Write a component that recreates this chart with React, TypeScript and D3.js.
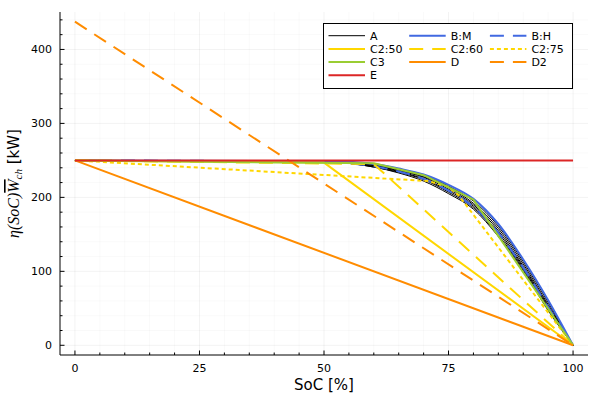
import React from "react";
import * as d3 from "d3";

// ---------- data ----------
const curveSoc = [0, 50, 55, 60, 65, 70, 75, 80, 85, 90, 95, 100];
const aFamily = [
  [250, 249, 248, 244, 238, 230, 215, 195, 161, 113, 58, 0],
  [250, 249, 247, 243, 237, 228, 213, 192, 158, 110, 55, 0],
  [250, 248, 247, 243, 236, 227, 211, 190, 155, 107, 53, 0],
  [250, 248, 246, 242, 235, 225, 209, 188, 152, 105, 51, 0],
  [250, 248, 246, 241, 234, 224, 207, 186, 149, 103, 49, 0],
  [250, 248, 246, 241, 233, 222, 205, 184, 147, 101, 47, 0],
];
const bM = [250, 249, 248, 245, 239, 231, 217, 198, 164, 116, 61, 0];
const bH = [250, 248, 246, 242, 235, 225, 209, 187, 152, 105, 52, 0];

const c250Soc = [0, 50, 100];
const c250P = [250, 247, 0];
const c260Soc = [0, 60, 100];
const c260P = [250, 245, 0];
const c275Soc = [0, 71, 75, 77, 100];
const c275P = [250, 222, 214, 203, 0];
const c3Soc = [0, 60, 70, 80, 100];
const c3P = [250, 246, 230, 197, 0];
const dSoc = [0, 100];
const dP = [250, 0];
const d2Soc = [0, 100];
const d2P = [437.5, 0];
const eSoc = [0, 100];
const eP = [250, 250];

const xTicks = [0, 25, 50, 75, 100];
const yTicks = [0, 100, 200, 300, 400];
const xMinor = [5, 10, 15, 20, 30, 35, 40, 45, 55, 60, 65, 70, 80, 85, 90, 95];
const yMinor = [20, 40, 60, 80, 120, 140, 160, 180, 220, 240, 260, 280, 320, 340, 360, 380, 420, 440];

// ---------- layout ----------
const W = 600, H = 400;
const L = 60, R = 588, T = 12, B = 355;
const FONT = "DejaVu Sans, sans-serif";

const BLACK = "#000000";
const BLUE = "#4169E1";
const GOLD = "#FFD700";
const GREEN = "#9ACD32";
const ORANGE = "#FF8C00";
const RED = "#DC2626";
const DASH = "14,9";
const DOT = "4,3";

export default function App() {
  const x = d3.scaleLinear().domain([-3, 103]).range([L, R]);
  const y = d3.scaleLinear().domain([-13.125, 450.625]).range([B, T]);

  const smooth = d3
    .line<[number, number]>()
    .x((d) => x(d[0]))
    .y((d) => y(d[1]))
    .curve(d3.curveMonotoneX);
  const straight = d3
    .line<[number, number]>()
    .x((d) => x(d[0]))
    .y((d) => y(d[1]));

  const zip = (xs: number[], ys: number[]) => xs.map((v, i) => [v, ys[i]] as [number, number]);

  const legend = [
    { name: "A", color: BLACK, dash: "", w: 1 },
    { name: "B:M", color: BLUE, dash: "", w: 2 },
    { name: "B:H", color: BLUE, dash: DASH, w: 2 },
    { name: "C2:50", color: GOLD, dash: "", w: 2 },
    { name: "C2:60", color: GOLD, dash: DASH, w: 2 },
    { name: "C2:75", color: GOLD, dash: DOT, w: 2 },
    { name: "C3", color: GREEN, dash: "", w: 2 },
    { name: "D", color: ORANGE, dash: "", w: 2 },
    { name: "D2", color: ORANGE, dash: DASH, w: 2 },
    { name: "E", color: RED, dash: "", w: 2 },
  ];

  const lgX = 323.5, lgY = 23.5, lgW = 249, lgH = 65;

  return (
    <svg
      width={W}
      height={H}
      style={{ position: "absolute", left: 0, top: 0, background: "#fff" }}
      fontFamily={FONT}
    >
      <rect x={0} y={0} width={W} height={H} fill="#fff" />
      {/* minor grid */}
      {xMinor.map((t) => (
        <line key={"xm" + t} x1={x(t)} x2={x(t)} y1={T} y2={B} stroke="#000" strokeOpacity={0.05} strokeWidth={0.5} />
      ))}
      {yMinor.map((t) => (
        <line key={"ym" + t} x1={L} x2={R} y1={y(t)} y2={y(t)} stroke="#000" strokeOpacity={0.05} strokeWidth={0.5} />
      ))}
      {/* major grid */}
      {xTicks.map((t) => (
        <line key={"xg" + t} x1={x(t)} x2={x(t)} y1={T} y2={B} stroke="#000" strokeOpacity={0.1} strokeWidth={0.5} />
      ))}
      {yTicks.map((t) => (
        <line key={"yg" + t} x1={L} x2={R} y1={y(t)} y2={y(t)} stroke="#000" strokeOpacity={0.1} strokeWidth={0.5} />
      ))}

      {/* series */}
      <g fill="none" strokeLinejoin="round">
        {aFamily.map((p, i) => (
          <path key={"a" + i} d={smooth(zip(curveSoc, p)) || ""} stroke={BLACK} strokeWidth={1} />
        ))}
        <path d={smooth(zip(curveSoc, bM)) || ""} stroke={BLUE} strokeWidth={2} />
        <path d={smooth(zip(curveSoc, bH)) || ""} stroke={BLUE} strokeWidth={2} strokeDasharray={DASH} />
        <path d={straight(zip(c250Soc, c250P)) || ""} stroke={GOLD} strokeWidth={2} />
        <path d={straight(zip(c260Soc, c260P)) || ""} stroke={GOLD} strokeWidth={2} strokeDasharray={DASH} />
        <path d={straight(zip(c275Soc, c275P)) || ""} stroke={GOLD} strokeWidth={2} strokeDasharray={DOT} />
        <path d={straight(zip(c3Soc, c3P)) || ""} stroke={GREEN} strokeWidth={2} />
        <path d={straight(zip(dSoc, dP)) || ""} stroke={ORANGE} strokeWidth={2} />
        <path d={straight(zip(d2Soc, d2P)) || ""} stroke={ORANGE} strokeWidth={2} strokeDasharray={DASH} />
        <path d={straight(zip(eSoc, eP)) || ""} stroke={RED} strokeWidth={2} />
      </g>

      {/* axes */}
      <line x1={L} x2={R} y1={B} y2={B} stroke="#000" strokeWidth={1} />
      <line x1={L} x2={L} y1={T} y2={B} stroke="#000" strokeWidth={1} />
      {xTicks.map((t) => (
        <g key={"xt" + t}>
          <line x1={x(t)} x2={x(t)} y1={B} y2={B - 4.5} stroke="#000" strokeWidth={1} />
          <text x={x(t)} y={372} fontSize={11} textAnchor="middle" fill="#000">
            {t}
          </text>
        </g>
      ))}
      {xMinor.map((t) => (
        <line key={"xmt" + t} x1={x(t)} x2={x(t)} y1={B} y2={B - 2.5} stroke="#000" strokeWidth={1} />
      ))}
      {yTicks.map((t) => (
        <g key={"yt" + t}>
          <line x1={L} x2={L + 4.5} y1={y(t)} y2={y(t)} stroke="#000" strokeWidth={1} />
          <text x={52} y={y(t)} dy="0.35em" fontSize={11} textAnchor="end" fill="#000">
            {t}
          </text>
        </g>
      ))}
      {yMinor.map((t) => (
        <line key={"ymt" + t} x1={L} x2={L + 2.5} y1={y(t)} y2={y(t)} stroke="#000" strokeWidth={1} />
      ))}

      {/* axis labels */}
      <text x={(L + R) / 2} y={390} fontSize={15} textAnchor="middle" fill="#000">
        SoC [%]
      </text>
      <text transform={`translate(19, ${(T + B) / 2}) rotate(-90)`} textAnchor="middle" fill="#000" fontSize={16}>
        <tspan fontFamily="Liberation Serif, DejaVu Serif, serif" fontStyle="italic">
          η(SoC)
        </tspan>
        <tspan fontFamily="Liberation Serif, DejaVu Serif, serif" fontStyle="italic" style={{ textDecoration: "overline" }}>
          W
        </tspan>
        <tspan fontFamily="Liberation Serif, DejaVu Serif, serif" fontStyle="italic" fontSize={11} dy={3}>
          ch
        </tspan>
        <tspan dy={-3} fontSize={15}>
          {"  [kW]"}
        </tspan>
      </text>

      {/* legend */}
      <rect x={lgX} y={lgY} width={lgW} height={lgH} fill="#fff" stroke="#000" strokeWidth={1} />
      {legend.map((e, i) => {
        const col = i % 3;
        const row = Math.floor(i / 3);
        const lx = 328.5 + col * 80.7;
        const ly = 35.7 + row * 13.2;
        return (
          <g key={e.name}>
            <line x1={lx} x2={lx + 36.5} y1={ly} y2={ly} stroke={e.color} strokeWidth={e.w} strokeDasharray={e.dash} />
            <text x={lx + 41.5} y={ly} dy="0.36em" fontSize={11} fill="#000">
              {e.name}
            </text>
          </g>
        );
      })}
    </svg>
  );
}
